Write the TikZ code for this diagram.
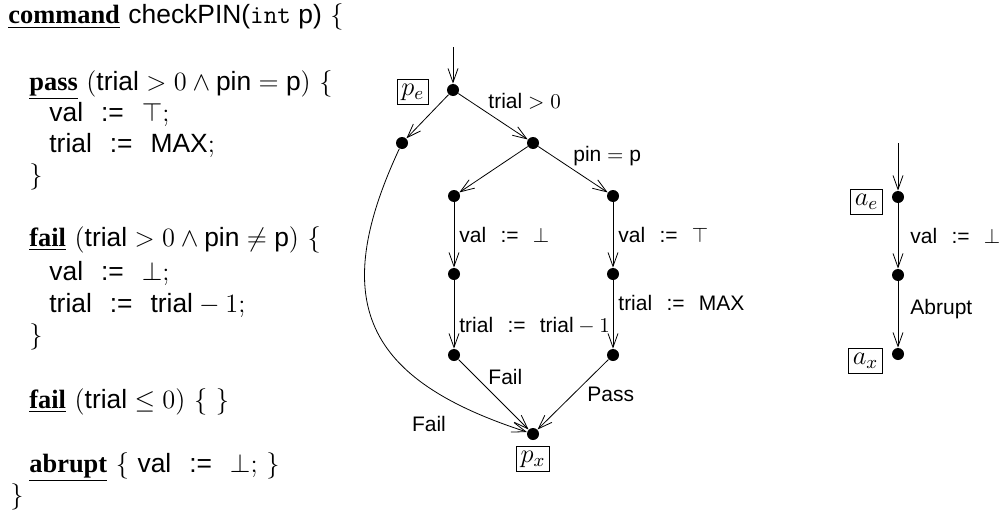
\RequirePackage{fix-cm}
\documentclass[tikz,border=0pt]{standalone}
\usepackage{fontspec}
\setsansfont{Liberation Sans}
\newfontfamily\kwfont{Liberation Serif}
\usetikzlibrary{arrows.meta, positioning}
\newcommand{\codesize}{\fontsize{13.2}{16}\selectfont}
\newcommand{\lblsize}{\fontsize{10.5}{13}\selectfont}
\newcommand{\kw}[1]{\underline{\kwfont\bfseries #1}}
\newcommand{\id}[1]{\textsf{#1}}
\newcommand{\asg}{\hspace{0.68em}\textsf{:=}\hspace{0.68em}}

\begin{document}
\begin{tikzpicture}[
    x=0.5pt, y=-0.5pt,
    code/.style={anchor=base west, inner sep=0pt, font=\codesize},
    dot/.style={circle, fill, inner sep=0pt, minimum size=6pt},
    tag/.style={draw, inner sep=2pt, minimum width=15pt, minimum height=12.5pt, font=\codesize},
    lbl/.style={inner sep=1pt, font=\lblsize},
    arr/.style={-{Straight Barb[length=7pt, width=5pt]}}
]
\useasboundingbox (0,0) rectangle (999,514);

% the command text
\node[code] (l1) at (8,24) {\kw{command} \id{checkPIN(\texttt{int} p)} $\{$};
\node[code] (l2) at (29,90) {\kw{pass} $(\id{trial} > 0 \wedge \id{pin} = \id{p})$ $\{$};
\node[code] (l3) at (49,121) {\id{val}\asg$\top$;};
\node[code] (l4) at (49,152) {\id{trial}\asg\id{MAX};};
\node[code] (l5) at (29,183) {$\}$};
\node[code] (l6) at (29,246) {\kw{fail} $(\id{trial} > 0 \wedge \id{pin} \neq \id{p})$ $\{$};
\node[code] (l7) at (49,280) {\id{val}\asg$\bot$;};
\node[code] (l8) at (49,312) {\id{trial}\asg$\id{trial} - 1$;};
\node[code] (l9) at (29,343) {$\}$};
\node[code] (l10) at (29,408) {\kw{fail} $(\id{trial} \leq 0)$ $\{$ $\}$};
\node[code] (l11) at (29,472) {\kw{abrupt} $\{$ \id{val}\asg$\bot$; $\}$};
\node[code] (l12) at (10,503) {$\}$};

% graph of checkPIN
\coordinate (pin0) at (453,47);
\node[dot] (pe) at (453,90) {};
\node[dot] (fail0) at (402,143) {};
\node[dot] (chk) at (533,143) {};
\node[dot] (wrong) at (454,196) {};
\node[dot] (right) at (613,196) {};
\node[dot] (wrongval) at (454,274) {};
\node[dot] (rightval) at (613,274) {};
\node[dot] (wrongend) at (454,355) {};
\node[dot] (rightend) at (613,355) {};
\node[dot] (px) at (533,434) {};
\node[tag, left=9pt of pe, yshift=-1pt] (pelbl) {$p_e$};
\node[tag, below=3pt of px] (pxlbl) {$p_x$};

\draw[arr] (pin0) -- (pe);
\draw[arr] (pe) -- (fail0);
\draw[arr] (pe) -- node[lbl, pos=0.4, anchor=south west] {$\id{trial} > 0$} (chk);
\draw[arr] (chk) -- (wrong);
\draw[arr] (chk) -- node[lbl, pos=0.47, anchor=south west] {$\id{pin} = \id{p}$} (right);
\draw[arr] (wrong) -- node[lbl, right=1.5pt] {\id{val}\asg$\bot$} (wrongval);
\draw[arr] (right) -- node[lbl, right=1.5pt] {\id{val}\asg$\top$} (rightval);
\draw[arr] (wrongval) -- node[lbl, pos=0.67, right=1.5pt] {\id{trial}\asg$\id{trial} - 1$} (wrongend);
\draw[arr] (rightval) -- node[lbl, pos=0.33, right=1.5pt] {\id{trial}\asg\id{MAX}} (rightend);
\draw[arr] (wrongend) -- node[lbl, pos=0.25, right=5pt] {\id{Fail}} (px);
\draw[arr] (rightend) -- node[lbl, midway, right=6pt] {\id{Pass}} (px);
\draw[arr] (fail0) to[out=245, in=162, looseness=1.4] node[lbl, pos=0.86, below left, xshift=-9pt, yshift=-2.5pt] {\id{Fail}} (px);

% graph of abrupt
\coordinate (ain) at (898,143);
\node[dot] (ae) at (898,197) {};
\node[dot] (am) at (898,275) {};
\node[dot] (ax) at (898,354) {};
\node[tag, left=4.5pt of ae, yshift=-2.5pt] (aelbl) {$a_e$};
\node[tag, left=4.5pt of ax, yshift=-3.5pt] (axlbl) {$a_x$};

\draw[arr] (ain) -- (ae);
\draw[arr] (ae) -- node[lbl, right=5pt] {\id{val}\asg$\bot$} (am);
\draw[arr] (am) -- node[lbl, pos=0.42, right=5pt] {\id{Abrupt}} (ax);
\end{tikzpicture}
\end{document}
